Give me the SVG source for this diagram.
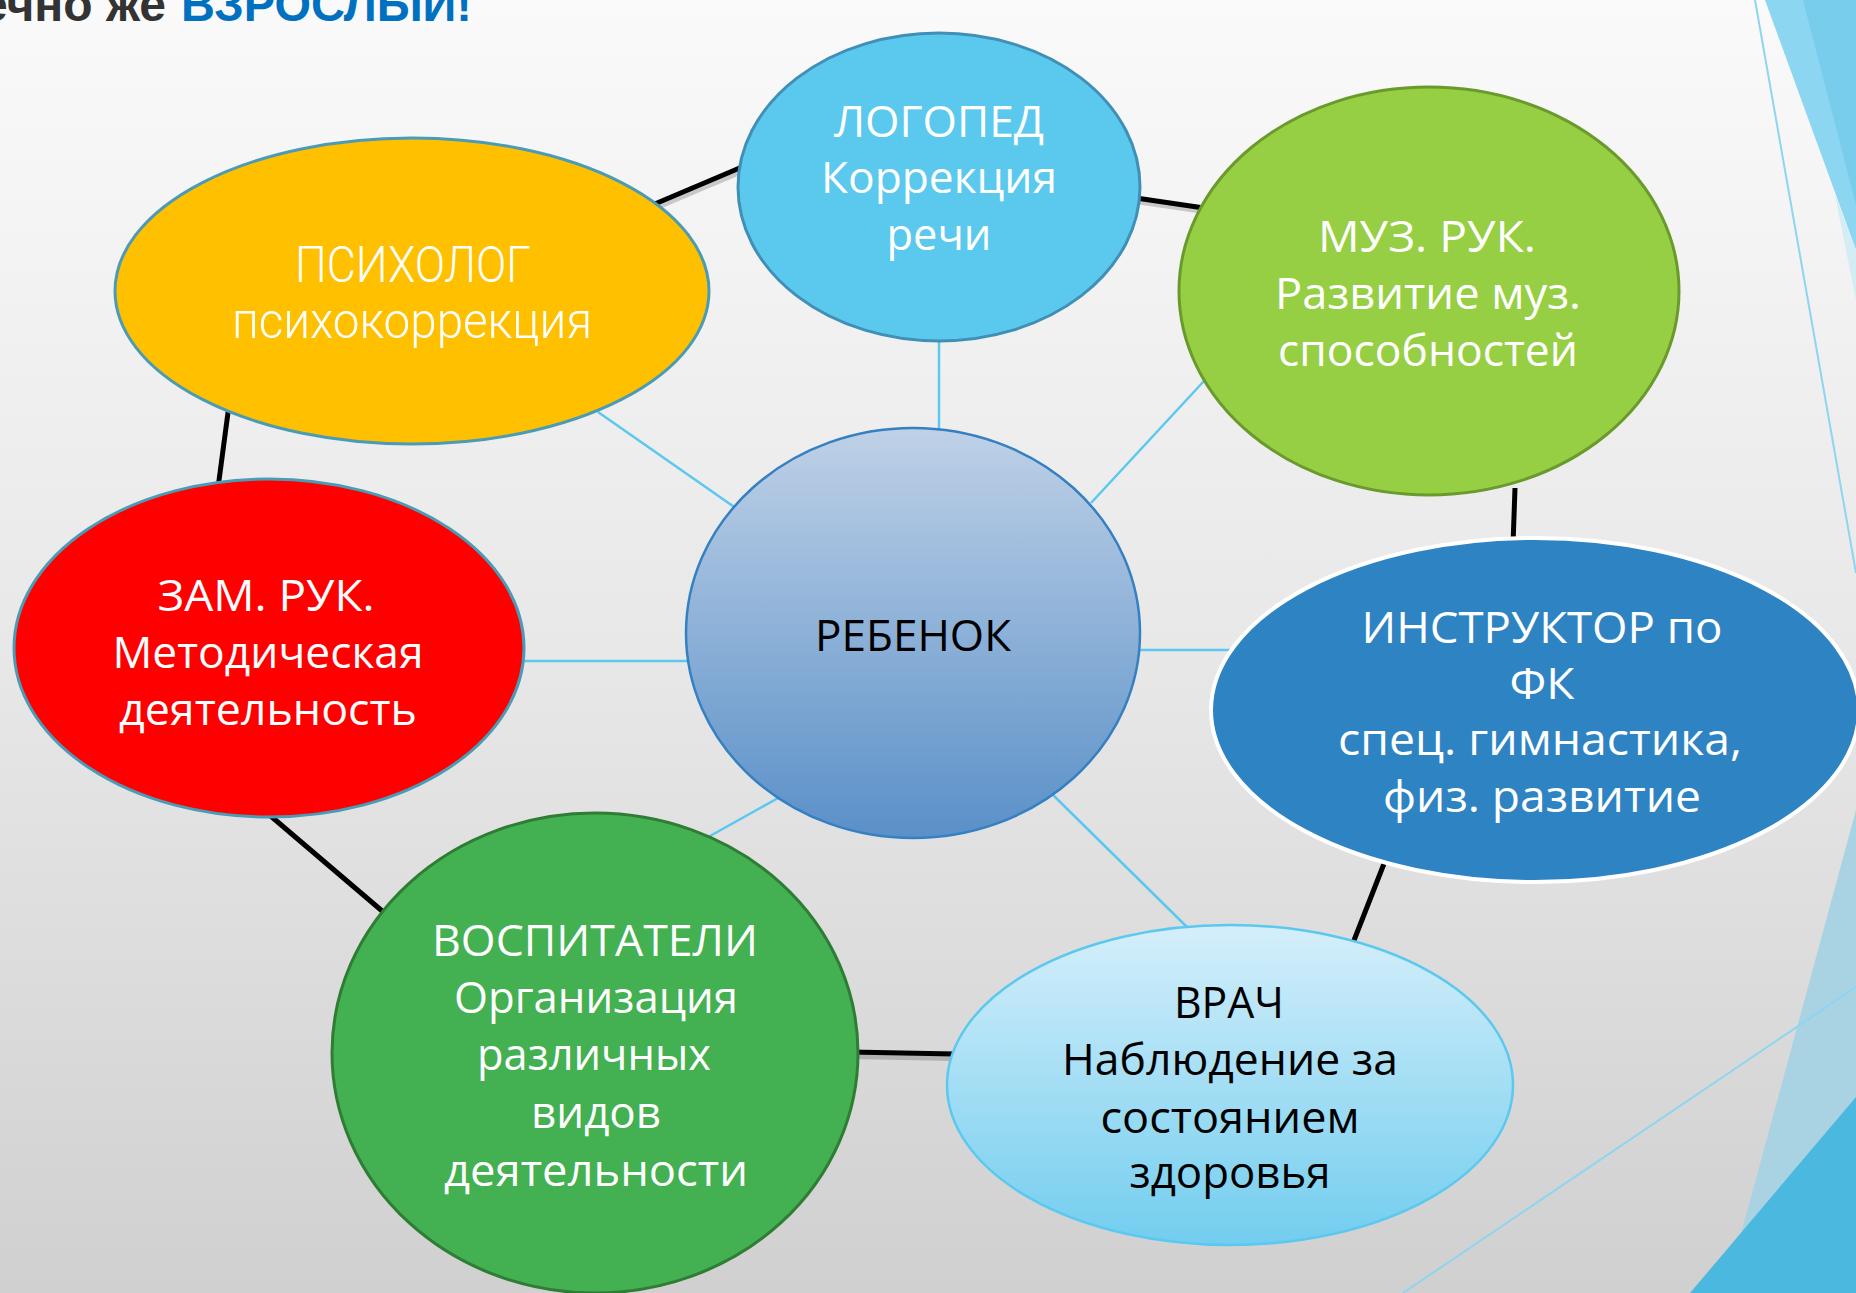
<svg xmlns="http://www.w3.org/2000/svg" width="1856" height="1293" viewBox="0 0 1856 1293">
<defs>
<linearGradient id="bg" x1="0" y1="0" x2="0" y2="1">
<stop offset="0" stop-color="#FAFAFA"/>
<stop offset="0.5" stop-color="#E8E8E8"/>
<stop offset="1" stop-color="#D0D0D0"/>
</linearGradient>
<linearGradient id="childGrad" x1="0" y1="0" x2="0" y2="1">
<stop offset="0" stop-color="#BFD1E7"/>
<stop offset="1" stop-color="#5A90C8"/>
</linearGradient>
<linearGradient id="doctorGrad" x1="0" y1="0" x2="0" y2="1">
<stop offset="0" stop-color="#D5EFFA"/>
<stop offset="1" stop-color="#72CDEF"/>
</linearGradient>
<style>
.t{font-family:"Open Sans","Noto Sans","DejaVu Sans",sans-serif;font-size:44px;text-anchor:middle;}
.w{fill:#FFFFFF;}
.k{fill:#000000;}
.thin{font-family:Roboto,"Open Sans",sans-serif;font-weight:300;font-size:50px;text-anchor:middle;fill:#FFFFFF;}
.bl{stroke:#000000;stroke-width:5;fill:none;stroke-linecap:butt;}
.sh{stroke:#000000;stroke-opacity:0.18;stroke-width:6;fill:none;}
.lb{stroke:#5BC8EF;stroke-width:2.5;fill:none;}
.deco{stroke:#8DD5F0;stroke-width:2;fill:none;}
.hd{font-family:"Liberation Sans",Arial,sans-serif;font-weight:bold;font-size:48px;}
</style>
</defs>
<rect x="0" y="0" width="1856" height="1293" fill="url(#bg)"/>
<g id="decor">
<polygon points="1765,0 1856,0 1856,250" fill="#8CD6F1"/>
<polygon points="1803,0 1856,0 1856,205" fill="#78CDEC"/>
<polygon points="1835,195 1856,250 1856,300" fill="#D3ECF5"/>
<line class="deco" x1="1755" y1="0" x2="1856" y2="573"/>
<polygon points="1856,810 1725,1293 1856,1293" fill="#A9D3E2"/>
<polygon points="1856,1097 1690,1293 1856,1293" fill="#4BB8E0"/>
<line class="deco" x1="1856" y1="987" x2="1403" y2="1293"/>
</g>
<g id="header">
<text class="hd" x="166" y="21" text-anchor="end" fill="#333333">ечно же</text>
<text class="hd" x="181" y="21" fill="#0070C0" textLength="291" lengthAdjust="spacingAndGlyphs">ВЗРОСЛЫЙ!</text>
</g>
<g id="connectors">
<line class="sh" x1="652" y1="209" x2="742" y2="171"/>
<line class="bl" x1="650" y1="206" x2="742" y2="167"/>
<line class="sh" x1="1136" y1="201" x2="1204" y2="211"/>
<line class="bl" x1="1136" y1="198" x2="1204" y2="208"/>
<line class="bl" x1="1515" y1="488" x2="1513" y2="545"/>
<line class="bl" x1="1387" y1="856" x2="1351" y2="948"/>
<line class="sh" x1="850" y1="1056" x2="955" y2="1058"/>
<line class="bl" x1="850" y1="1052" x2="955" y2="1054"/>
<line class="bl" x1="266" y1="812" x2="388" y2="916"/>
<line class="bl" x1="218" y1="488" x2="229" y2="405"/>
<line class="lb" x1="939" y1="335" x2="939" y2="435"/>
<line class="lb" x1="598" y1="412" x2="740" y2="511"/>
<line class="lb" x1="1204" y1="381" x2="1091" y2="503"/>
<line class="lb" x1="1136" y1="650" x2="1230" y2="650"/>
<line class="lb" x1="520" y1="661" x2="690" y2="661"/>
<line class="lb" x1="710" y1="836" x2="780" y2="797"/>
<line class="lb" x1="1053" y1="795" x2="1187" y2="927"/>
</g>
<g id="logoped">
<ellipse cx="939" cy="187" rx="201" ry="154" fill="#5BC9EE" stroke="#3F8FB6" stroke-width="3"/>
<text class="t w" x="939" y="137" textLength="210" lengthAdjust="spacingAndGlyphs">ЛОГОПЕД</text>
<text class="t w" x="939" y="193" textLength="236" lengthAdjust="spacingAndGlyphs">Коррекция</text>
<text class="t w" x="939" y="250" textLength="105" lengthAdjust="spacingAndGlyphs">речи</text>
</g>
<g id="psiholog">
<ellipse cx="412" cy="291" rx="297" ry="153" fill="#FFC000" stroke="#4A9BB5" stroke-width="3"/>
<text class="thin" x="413" y="282" textLength="236" lengthAdjust="spacingAndGlyphs">ПСИХОЛОГ</text>
<text class="thin" x="412" y="338" textLength="360" lengthAdjust="spacingAndGlyphs">психокоррекция</text>
</g>
<g id="muz">
<ellipse cx="1429" cy="291" rx="250" ry="204" fill="#96CF43" stroke="#6A9A2C" stroke-width="3"/>
<text class="t w" x="1427" y="252" textLength="218" lengthAdjust="spacingAndGlyphs">МУЗ. РУК.</text>
<text class="t w" x="1428" y="309" textLength="306" lengthAdjust="spacingAndGlyphs">Развитие муз.</text>
<text class="t w" x="1428" y="366" textLength="300" lengthAdjust="spacingAndGlyphs">способностей</text>
</g>
<g id="zam">
<ellipse cx="269" cy="648" rx="255" ry="169" fill="#FF0000" stroke="#4A9BB5" stroke-width="3"/>
<text class="t w" x="266" y="611" textLength="217" lengthAdjust="spacingAndGlyphs">ЗАМ. РУК.</text>
<text class="t w" x="268" y="668" textLength="311" lengthAdjust="spacingAndGlyphs">Методическая</text>
<text class="t w" x="268" y="725" textLength="298" lengthAdjust="spacingAndGlyphs">деятельность</text>
</g>
<g id="rebenok">
<ellipse cx="913" cy="633" rx="227" ry="205" fill="url(#childGrad)" stroke="#3480C2" stroke-width="2.5"/>
<text class="t k" x="913" y="651" font-size="46" textLength="196" lengthAdjust="spacingAndGlyphs">РЕБЕНОК</text>
</g>
<g id="instruktor">
<ellipse cx="1535" cy="710" rx="324" ry="172" fill="#2E83C3" stroke="#FFFFFF" stroke-width="4"/>
<text class="t w" x="1542" y="643" textLength="361" lengthAdjust="spacingAndGlyphs">ИНСТРУКТОР по</text>
<text class="t w" x="1542" y="699" textLength="65" lengthAdjust="spacingAndGlyphs">ФК</text>
<text class="t w" x="1540" y="755" textLength="404" lengthAdjust="spacingAndGlyphs">спец. гимнастика,</text>
<text class="t w" x="1542" y="812" textLength="318" lengthAdjust="spacingAndGlyphs">физ. развитие</text>
</g>
<g id="vospitateli">
<ellipse cx="595" cy="1053" rx="263" ry="240" fill="#43B051" stroke="#2F7D34" stroke-width="3"/>
<text class="t w" x="595" y="956" textLength="326" lengthAdjust="spacingAndGlyphs">ВОСПИТАТЕЛИ</text>
<text class="t w" x="596" y="1013" textLength="284" lengthAdjust="spacingAndGlyphs">Организация</text>
<text class="t w" x="594" y="1070" textLength="234" lengthAdjust="spacingAndGlyphs">различных</text>
<text class="t w" x="596" y="1128" textLength="130" lengthAdjust="spacingAndGlyphs">видов</text>
<text class="t w" x="596" y="1186" textLength="304" lengthAdjust="spacingAndGlyphs">деятельности</text>
</g>
<g id="vrach">
<ellipse cx="1230" cy="1085" rx="283" ry="160" fill="url(#doctorGrad)" stroke="#5BC8EF" stroke-width="2.5"/>
<text class="t k" x="1229" y="1018" textLength="110" lengthAdjust="spacingAndGlyphs">ВРАЧ</text>
<text class="t k" x="1230" y="1075" textLength="336" lengthAdjust="spacingAndGlyphs">Наблюдение за</text>
<text class="t k" x="1230" y="1133" textLength="259" lengthAdjust="spacingAndGlyphs">состоянием</text>
<text class="t k" x="1230" y="1188" textLength="201" lengthAdjust="spacingAndGlyphs">здоровья</text>
</g>
</svg>
